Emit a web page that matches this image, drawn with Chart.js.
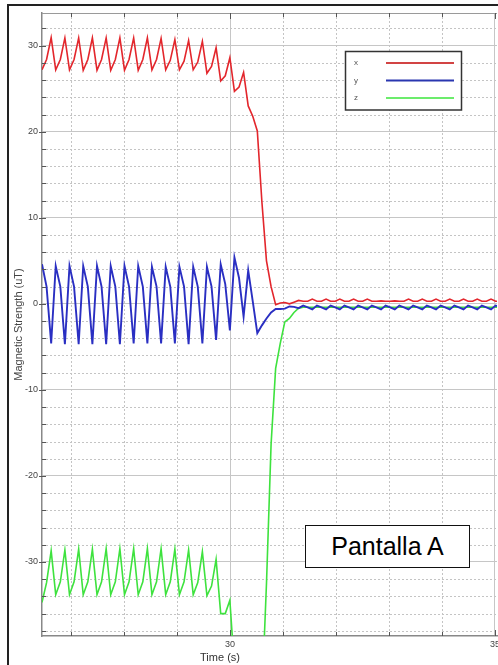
<!DOCTYPE html>
<html><head><meta charset="utf-8">
<script src="https://cdn.jsdelivr.net/npm/chart.js@4"></script>
<style>
html,body{margin:0;padding:0;background:#fff;overflow:hidden;width:498px;height:665px;position:relative;}
#frame{position:absolute;left:7px;top:4px;width:600px;height:700px;border-left:2px solid #222;border-top:2px solid #222;}
#wrap{position:absolute;left:0;top:0;width:520px;height:665px;}
#note{position:absolute;left:305px;top:525px;width:163px;height:41px;border:1.5px solid #111;background:#fff;font:25px "Liberation Sans",Arial,sans-serif;color:#000;display:flex;align-items:center;justify-content:center;}
</style></head><body>
<div id="frame"></div>
<div id="wrap"><canvas id="c" width="520" height="665"></canvas></div>
<div id="note">Pantalla A</div>
<script>
const seriesLabels = ['x', 'y', 'z'];
const timeS = [26.450,26.536,26.623,26.709,26.796,26.882,26.969,27.055,27.142,27.228,
27.315,27.401,27.488,27.574,27.661,27.747,27.834,27.920,28.007,28.093,
28.180,28.266,28.353,28.439,28.525,28.612,28.698,28.785,28.871,28.958,
29.044,29.131,29.217,29.304,29.390,29.477,29.563,29.650,29.736,29.823,
29.909,29.996,30.082,30.169,30.255,30.342,30.428,30.514,30.601,30.687,
30.774,30.860,30.947,31.033,31.120,31.206,31.293,31.379,31.466,31.552,
31.639,31.725,31.812,31.898,31.985,32.071,32.158,32.244,32.331,32.417,
32.503,32.590,32.676,32.763,32.849,32.936,33.022,33.109,33.195,33.282,
33.368,33.455,33.541,33.628,33.714,33.801,33.887,33.974,34.060,34.147,
34.233,34.320,34.406,34.492,34.579,34.665,34.752,34.838,34.925,35.011,35.098];
const xVals = [27.2,28.4,30.95,27.2,28.4,30.9,27.2,28.4,30.9,27.15,
28.4,30.9,27.15,28.4,30.9,27.15,28.4,30.9,27.15,28.4,
30.9,27.15,28.4,30.9,27.2,28.4,30.85,27.2,28.3,30.7,
27.2,28.2,30.6,27.2,28.1,30.5,26.8,27.6,29.75,25.9,
26.5,28.6,24.7,25.2,26.9,23.0,21.8,20.1,11.8,5.0,
2.0,-0.1,0.1,0.15,0.0,0.2,0.4,0.3,0.3,0.55,
0.3,0.3,0.55,0.3,0.3,0.55,0.3,0.3,0.55,0.3,
0.3,0.55,0.3,0.3,0.35,0.3,0.3,0.35,0.3,0.3,
0.55,0.3,0.3,0.55,0.3,0.3,0.55,0.3,0.3,0.55,
0.3,0.3,0.55,0.3,0.3,0.55,0.3,0.3,0.55,0.3,0.3];
const yVals = [4.6,2.0,-4.6,4.4,2.0,-4.7,4.4,2.0,-4.7,4.4,
2.0,-4.7,4.4,2.0,-4.7,4.4,2.0,-4.7,4.4,2.0,
-4.6,4.4,2.0,-4.6,4.3,2.0,-4.6,4.3,2.0,-4.6,
4.3,2.0,-4.7,4.3,2.0,-4.6,4.3,2.0,-4.2,4.6,
2.3,-3.1,5.4,3.0,-1.5,3.9,0.3,-3.4,-2.5,-1.7,
-1.0,-0.6,-0.6,-0.55,-0.3,-0.35,-0.5,-0.2,-0.4,-0.65,
-0.2,-0.4,-0.65,-0.2,-0.4,-0.65,-0.2,-0.4,-0.65,-0.2,
-0.4,-0.65,-0.2,-0.4,-0.65,-0.2,-0.4,-0.65,-0.2,-0.4,
-0.65,-0.2,-0.4,-0.65,-0.2,-0.4,-0.65,-0.2,-0.4,-0.65,
-0.2,-0.4,-0.65,-0.2,-0.4,-0.65,-0.2,-0.4,-0.65,-0.2,-0.4];
const zVals = [-34.7,-32.4,-28.7,-33.8,-32.3,-28.6,-33.8,-32.3,-28.5,-33.8,
-32.3,-28.5,-33.8,-32.3,-28.45,-33.8,-32.3,-28.45,-33.8,-32.3,
-28.45,-33.8,-32.3,-28.45,-33.8,-32.3,-28.45,-33.8,-32.3,-28.5,
-33.8,-32.3,-28.6,-33.8,-32.4,-28.8,-33.9,-32.8,-29.7,-36.0,
-36.0,-34.45,-42.4,-47.0,-49.0,-50.0,-50.0,-49.0,-45.8,-32.5,
-16.3,-7.5,-4.6,-2.1,-1.7,-1.0,-0.5,-0.4,-0.4,-0.4,
-0.4,-0.4,-0.4,-0.4,-0.4,-0.4,-0.4,-0.4,-0.4,-0.4,
-0.4,-0.4,-0.4,-0.4,-0.4,-0.4,-0.4,-0.4,-0.4,-0.4,
-0.4,-0.4,-0.4,-0.4,-0.4,-0.4,-0.4,-0.4,-0.4,-0.4,
-0.4,-0.4,-0.4,-0.4,-0.4,-0.4,-0.4,-0.4,-0.4,-0.4,-0.4];
const seriesColors = ['#e3262c', '#2a2fc2', '#3ee23e'];
const legendColors = ['#d24444', '#2a36b0', '#6cec6c'];
const xRange = [26.45, 35.038];
const yRange = [-38.6, 33.8];
const xTitle = 'Time (s)';
const yTitle = 'Magnetic Strength (uT)';

Chart.defaults.font.family = '"Liberation Sans", Arial, sans-serif';
const toPts = v => timeS.map((t, i) => ({x: t, y: v[i]}));
const allVals = [xVals, yVals, zVals];

const plotDeco = {
  id: 'plotDeco',
  beforeDatasetsDraw(chart) {
    const {ctx, chartArea: a, scales: {x, y}} = chart;
    ctx.save();
    ctx.strokeStyle = '#c4c4c4'; ctx.lineWidth = 1; ctx.setLineDash([2, 2]);
    x.ticks.forEach(t => { if (t.value % 5 !== 0) {
      const p = Math.round(x.getPixelForValue(t.value)) + 0.5;
      ctx.beginPath(); ctx.moveTo(p, a.top); ctx.lineTo(p, a.bottom); ctx.stroke(); }});
    y.ticks.forEach(t => { if (t.value % 10 !== 0) {
      const p = Math.round(y.getPixelForValue(t.value)) + 0.5;
      ctx.beginPath(); ctx.moveTo(a.left, p); ctx.lineTo(a.right, p); ctx.stroke(); }});
    ctx.setLineDash([]);
    ctx.strokeStyle = '#9a9a9a';
    ctx.beginPath(); ctx.moveTo(a.left, a.top + 0.5); ctx.lineTo(a.right, a.top + 0.5); ctx.stroke();
    ctx.restore();
  },
  afterDatasetsDraw(chart) {
    const {ctx, chartArea: a, scales: {x, y}} = chart;
    ctx.save();
    ctx.strokeStyle = '#555'; ctx.lineWidth = 1;
    x.ticks.forEach(t => {
      const p = Math.round(x.getPixelForValue(t.value)) + 0.5;
      const L = t.value % 5 === 0 ? 6 : 4;
      ctx.beginPath(); ctx.moveTo(p, a.top); ctx.lineTo(p, a.top + L); ctx.stroke();
      ctx.beginPath(); ctx.moveTo(p, a.bottom); ctx.lineTo(p, a.bottom - L); ctx.stroke();
    });
    y.ticks.forEach(t => {
      const p = Math.round(y.getPixelForValue(t.value)) + 0.5;
      const major = t.value % 10 === 0;
      ctx.beginPath(); ctx.moveTo(a.left - (major ? 3 : 0), p); ctx.lineTo(a.left + 4, p); ctx.stroke();
    });
    // legend
    const bx = 345.5, by = 51.5, bw = 116, bh = 58.5;
    ctx.fillStyle = '#fff'; ctx.fillRect(bx, by, bw, bh);
    ctx.strokeStyle = '#333'; ctx.lineWidth = 1.5; ctx.strokeRect(bx, by, bw, bh);
    ctx.font = '8px "Liberation Sans", Arial, sans-serif';
    ctx.textAlign = 'left'; ctx.textBaseline = 'middle';
    chart.data.datasets.forEach((ds, i) => {
      const ly = 63 + i * 17.5;
      ctx.fillStyle = '#555'; ctx.fillText(ds.label, 354, ly);
      ctx.strokeStyle = legendColors[i]; ctx.lineWidth = 2;
      ctx.beginPath(); ctx.moveTo(386, ly); ctx.lineTo(454, ly); ctx.stroke();
    });
    ctx.restore();
  },
  afterDraw(chart) {
    const {ctx} = chart;
    ctx.save();
    ctx.font = '11px "Liberation Sans", Arial, sans-serif';
    ctx.fillStyle = '#333'; ctx.textAlign = 'center'; ctx.textBaseline = 'middle';
    ctx.fillText(xTitle, 220, 658);
    ctx.restore();
  }
};

new Chart(document.getElementById('c'), {
  type: 'line',
  data: {
    datasets: seriesLabels.map((lab, i) => ({
      label: lab, data: toPts(allVals[i]), borderColor: seriesColors[i],
      borderWidth: i === 1 ? 1.9 : 1.6, pointRadius: 0, tension: 0, fill: false
    }))
  },
  options: {
    responsive: false, animation: false, devicePixelRatio: 1,
    layout: {padding: {left: 8, top: 13, right: 23, bottom: 0}},
    plugins: {legend: {display: false}, tooltip: {enabled: false}},
    scales: {
      x: {
        type: 'linear', position: 'bottom', min: xRange[0], max: xRange[1],
        afterFit: s => { s.height = 29; },
        ticks: {stepSize: 1, includeBounds: false, autoSkip: false, maxRotation: 0,
          color: '#444', font: {size: 9}, padding: 3,
          callback: v => (v % 5 === 0 ? String(v) : '')},
        grid: {drawTicks: false, color: c => (c.tick && c.tick.value % 5 === 0 ? '#c6c6c6' : 'rgba(0,0,0,0)'), lineWidth: 1},
        border: {display: true, color: '#888', width: 1.5}
      },
      y: {
        type: 'linear', position: 'left', min: yRange[0], max: yRange[1],
        afterFit: s => { s.width = 34; },
        ticks: {stepSize: 2, includeBounds: false, autoSkip: false,
          color: '#444', font: {size: 9}, padding: 4,
          callback: v => (v % 10 === 0 ? String(v) : '')},
        grid: {drawTicks: false, color: c => (c.tick && c.tick.value % 10 === 0 ? '#c6c6c6' : 'rgba(0,0,0,0)'), lineWidth: 1},
        border: {display: true, color: '#888', width: 1.5},
        title: {display: true, text: yTitle, color: '#444', font: {size: 11}, padding: {top: 4, bottom: 0}}
      }
    }
  },
  plugins: [plotDeco]
});
</script>
</body></html>
